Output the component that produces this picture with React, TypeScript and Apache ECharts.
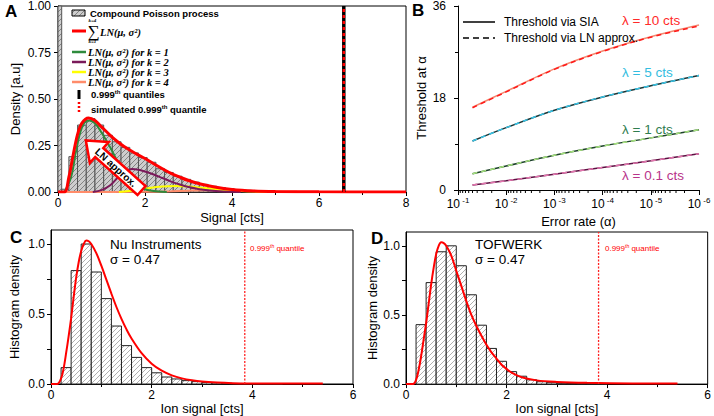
import React, { useEffect, useRef } from "react";
import * as echarts from "echarts";

// ---------------- Panel A : compound Poisson histogram ----------------
const aBinEdges = [0, 0.085, 0.25, 0.45, 0.65, 0.85, 1.05, 1.25, 1.45, 1.65, 1.85, 2.05, 2.25, 2.45, 2.65, 2.85, 3.05, 3.25, 3.45, 3.65, 3.85, 4.05, 4.25, 4.45, 4.65, 4.85, 5.05];
const aBinHeights = [1.2, 0.015, 0.19, 0.36, 0.395, 0.36, 0.305, 0.27, 0.24, 0.21, 0.185, 0.16, 0.125, 0.105, 0.085, 0.068, 0.053, 0.041, 0.031, 0.024, 0.018, 0.013, 0.009, 0.006, 0.004, 0.003];
const aSumX = [0, 0.15, 0.25, 0.35, 0.45, 0.55, 0.7, 0.85, 1.0, 1.2, 1.4, 1.6, 1.8, 2.0, 2.2, 2.4, 2.6, 2.8, 3.0, 3.3, 3.6, 4.0, 4.5, 5.0, 6.0, 8.0];
const aSumY = [0, 0, 0.08, 0.2, 0.31, 0.37, 0.398, 0.385, 0.35, 0.305, 0.265, 0.232, 0.205, 0.18, 0.152, 0.125, 0.1, 0.08, 0.062, 0.042, 0.027, 0.014, 0.006, 0.003, 0.001, 0];
const aK1X = [0.15, 0.3, 0.4, 0.5, 0.6, 0.72, 0.85, 1.0, 1.2, 1.4, 1.6, 1.8, 2.0, 2.2, 2.5];
const aK1Y = [0, 0.08, 0.2, 0.31, 0.37, 0.385, 0.37, 0.32, 0.24, 0.15, 0.085, 0.04, 0.015, 0.005, 0];
const aK2X = [0.8, 1.0, 1.2, 1.4, 1.55, 1.7, 1.85, 2.0, 2.2, 2.4, 2.6, 2.8, 3.0, 3.3, 3.7, 4.2];
const aK2Y = [0, 0.01, 0.036, 0.085, 0.112, 0.124, 0.12, 0.11, 0.094, 0.075, 0.056, 0.04, 0.027, 0.013, 0.004, 0];
const aK3X = [1.4, 1.8, 2.1, 2.4, 2.7, 3.0, 3.3, 3.7, 4.1, 4.6, 5.2];
const aK3Y = [0, 0.01, 0.022, 0.03, 0.032, 0.029, 0.023, 0.014, 0.007, 0.002, 0];
const aK4X = [0, 2.0, 2.6, 3.0, 3.5, 4.0, 4.5, 5.0, 5.5, 6.2];
const aK4Y = [0, 0.001, 0.004, 0.007, 0.009, 0.008, 0.005, 0.003, 0.001, 0];
const aQuantile = 6.57;
const aSimQuantile = 6.57;
const aArrowTip = [0.64, 0.277];
const aArrowTail = [1.92, 0.008];

// ---------------- Panel B : thresholds vs error rate ----------------
const bAlpha = [0.05, 1e-2, 1e-3, 1e-4, 1e-5, 1e-6];
const bSIA10 = [16.2, 19.3, 23.7, 27.2, 30.0, 32.3];
const bLN10 = [16.1, 19.2, 23.6, 27.1, 29.9, 32.1];
const bSIA5 = [9.6, 12.2, 15.6, 18.2, 20.4, 22.4];
const bLN5 = [9.6, 12.2, 15.6, 18.2, 20.4, 22.4];
const bSIA1 = [3.2, 4.7, 6.8, 8.6, 10.2, 11.8];
const bLN1 = [3.2, 4.7, 6.8, 8.6, 10.2, 11.8];
const bSIA01 = [1.0, 1.8, 3.1, 4.4, 5.7, 7.1];
const bLN01 = [1.0, 1.8, 3.1, 4.4, 5.7, 7.1];
const bDecades = [1e-1, 1e-2, 1e-3, 1e-4, 1e-5];
const bMinorMultipliers = [0.2, 0.3, 0.4, 0.5, 0.6, 0.7, 0.8, 0.9];

// ---------------- Panel C : Nu Instruments ----------------
const cBinWidth = 0.2;
const cBinLeft = [0.2, 0.4, 0.6, 0.8, 1.0, 1.2, 1.4, 1.6, 1.8, 2.0, 2.2, 2.4, 2.6, 2.8, 3.0, 3.2, 3.4, 3.6, 3.8, 4.0, 4.2, 4.4];
const cHeights = [0.117, 0.81, 1.0, 0.8, 0.61, 0.414, 0.274, 0.19, 0.117, 0.08, 0.05, 0.036, 0.024, 0.017, 0.011, 0.008, 0.006, 0.004, 0.003, 0.002, 0.0015, 0.001];
const cCurveX = [0, 0.12, 0.2, 0.25, 0.3, 0.35, 0.4, 0.45, 0.5, 0.55, 0.6, 0.65, 0.7, 0.75, 0.8, 0.9, 1.0, 1.1, 1.2, 1.3, 1.4, 1.5, 1.6, 1.8, 2.0, 2.2, 2.4, 2.6, 2.8, 3.0, 3.3, 3.6, 4.0, 4.5, 5.4];
const cCurveY = [0, 0, 0.04, 0.11, 0.22, 0.34, 0.47, 0.62, 0.76, 0.87, 0.95, 1.0, 1.025, 1.02, 1.0, 0.935, 0.845, 0.745, 0.645, 0.55, 0.465, 0.39, 0.325, 0.22, 0.145, 0.095, 0.062, 0.04, 0.026, 0.017, 0.01, 0.006, 0.004, 0.003, 0.003];
const cQuantile = 3.85;

// ---------------- Panel D : TOFWERK ----------------
const dBinWidth = 0.2;
const dBinLeft = [0.2, 0.4, 0.6, 0.8, 1.0, 1.2, 1.4, 1.6, 1.8, 2.0, 2.2, 2.4, 2.6, 2.8, 3.0, 3.2, 3.4, 3.6, 3.8];
const dHeights = [0.43, 0.734, 0.957, 1.0, 0.856, 0.646, 0.426, 0.258, 0.165, 0.09, 0.057, 0.031, 0.017, 0.01, 0.006, 0.004, 0.003, 0.002, 0.001];
const dCurveX = [0, 0.14, 0.2, 0.25, 0.3, 0.35, 0.4, 0.45, 0.5, 0.55, 0.6, 0.65, 0.7, 0.75, 0.8, 0.9, 1.0, 1.1, 1.2, 1.3, 1.4, 1.5, 1.6, 1.7, 1.8, 1.9, 2.0, 2.1, 2.3, 2.6, 3.0, 3.6, 4.5, 5.4];
const dCurveY = [0, 0, 0.03, 0.1, 0.2, 0.32, 0.44, 0.58, 0.72, 0.84, 0.94, 1.0, 1.025, 1.02, 1.0, 0.93, 0.82, 0.71, 0.6, 0.5, 0.42, 0.35, 0.285, 0.23, 0.185, 0.14, 0.11, 0.083, 0.05, 0.027, 0.016, 0.009, 0.005, 0.004];
const dQuantile = 3.83;

const SANS = "'Liberation Sans', Arial, sans-serif";
const SERIF = "'Liberation Serif', 'DejaVu Serif', serif";

function hatchPattern(bg: string | null, fg: string, size: number) {
  const c = document.createElement("canvas");
  c.width = size;
  c.height = size;
  const ctx = c.getContext("2d")!;
  if (bg) {
    ctx.fillStyle = bg;
    ctx.fillRect(0, 0, size, size);
  }
  ctx.strokeStyle = fg;
  ctx.lineWidth = 0.8;
  ctx.beginPath();
  ctx.moveTo(-1, size + 1);
  ctx.lineTo(size + 1, -1);
  ctx.moveTo(-1, 1);
  ctx.lineTo(1, -1);
  ctx.moveTo(size - 1, size + 1);
  ctx.lineTo(size + 1, size - 1);
  ctx.stroke();
  return { image: c.toDataURL(), repeat: "repeat", imageWidth: size, imageHeight: size };
}

const pairs = (xs: number[], ys: number[]) => xs.map((x, i) => [x, ys[i]]);

function histSeries(idx: number, lefts: number[], rights: number[], heights: number[], fill: any, stroke: string) {
  return {
    type: "custom",
    xAxisIndex: idx,
    yAxisIndex: idx,
    data: heights.map((h, i) => [lefts[i], rights[i], h]),
    encode: { x: [0, 1], y: 2 },
    z: 1,
    renderItem: (params: any, api: any) => {
      const p0 = api.coord([api.value(0), api.value(2)]);
      const p1 = api.coord([api.value(1), 0]);
      const rect = { x: p0[0], y: p0[1], width: p1[0] - p0[0], height: p1[1] - p0[1] };
      const cs = params.coordSys;
      const clipped = echarts.graphic.clipRectByRect(rect, { x: cs.x, y: cs.y, width: cs.width, height: cs.height });
      if (!clipped) return null;
      return { type: "rect", shape: clipped, style: { fill, stroke, lineWidth: 1 } };
    },
  };
}

function lineSeries(idx: number, data: number[][], color: string, width: number, extra: any = {}) {
  return {
    type: "line",
    xAxisIndex: idx,
    yAxisIndex: idx,
    data,
    symbol: "none",
    showSymbol: false,
    smooth: 0.35,
    itemStyle: { color },
    lineStyle: { color, width, ...(extra.lineStyle || {}) },
    z: extra.z ?? 3,
    silent: true,
  };
}

function baseAxis(extra: any) {
  return {
    axisLine: { show: true, onZero: false, lineStyle: { color: "#000", width: 1 } },
    axisTick: { show: true, inside: false, length: 4, lineStyle: { color: "#000", width: 1 } },
    splitLine: { show: false },
    nameLocation: "middle",
    nameTextStyle: { color: "#000", fontFamily: SANS, fontSize: 13 },
    ...extra,
    axisLabel: { color: "#000", fontFamily: SANS, fontSize: 12, ...(extra.axisLabel || {}) },
  };
}

export default function App() {
  const ref = useRef<HTMLDivElement>(null);
  useEffect(() => {
    const el = ref.current!;
    const chart = echarts.init(el, null, { renderer: "svg" });
    const patA = hatchPattern("#cdcdcd", "#707070", 5);
    const patC = hatchPattern("#ffffff", "#9a9a9a", 5);

    const aL = aBinEdges.slice(0, -1);
    const aR = aBinEdges.slice(1);
    const cR = cBinLeft.map((x) => x + cBinWidth);
    const dR = dBinLeft.map((x) => x + dBinWidth);

    const bMinor: number[][] = [];
    bDecades.forEach((d) => bMinorMultipliers.forEach((m) => bMinor.push([d * m, 0])));

    const option: any = {
      animation: false,
      backgroundColor: "#fff",
      grid: [
        { left: 58, top: 5, width: 348, height: 187, show: true, borderColor: "#000", borderWidth: 1, backgroundColor: "transparent" },
        { left: 458, top: 5, width: 241, height: 185 },
        { left: 51, top: 230, width: 302, height: 154, show: true, borderColor: "#000", borderWidth: 1, backgroundColor: "transparent" },
        { left: 406, top: 232, width: 302, height: 153, show: true, borderColor: "#000", borderWidth: 1, backgroundColor: "transparent" },
      ],
      xAxis: [
        baseAxis({ gridIndex: 0, type: "value", min: 0, max: 8, interval: 2, name: "Signal [cts]", nameGap: 19, minorTick: { show: true, splitNumber: 2, length: 3, lineStyle: { color: "#000" } }, axisLabel: { margin: 5 } }),
        baseAxis({
          gridIndex: 1, type: "log", logBase: 10, min: 1e-6, max: 0.1, inverse: true, name: "Error rate (\u03b1)", nameGap: 25,
          axisTick: { show: true, inside: false, length: 5, lineStyle: { color: "#000" } },
          axisLabel: {
            margin: 6,
            formatter: (v: number) => "{b|10}{s| " + Math.round(Math.log10(v)) + "}",
            rich: { b: { fontSize: 12, fontFamily: SANS, color: "#000" }, s: { fontSize: 8, fontFamily: SANS, color: "#000", padding: [0, 0, 7, 0] } },
          },
        }),
        baseAxis({ gridIndex: 2, type: "value", min: 0, max: 6, interval: 2, name: "Ion signal [cts]", nameGap: 16, minorTick: { show: true, splitNumber: 2, length: 3, lineStyle: { color: "#000" } }, axisLabel: { margin: 5 } }),
        baseAxis({ gridIndex: 3, type: "value", min: 0, max: 6, interval: 2, name: "Ion signal [cts]", nameGap: 16, minorTick: { show: true, splitNumber: 2, length: 3, lineStyle: { color: "#000" } }, axisLabel: { margin: 5 } }),
      ],
      yAxis: [
        baseAxis({ gridIndex: 0, type: "value", min: 0, max: 1, interval: 0.25, name: "Density [a.u]", nameGap: 36, axisLabel: { margin: 7, formatter: (v: number) => v.toFixed(2) } }),
        baseAxis({ gridIndex: 1, type: "value", min: 0, max: 36, interval: 18, name: "Threshold at \u03b1", nameGap: 30, minorTick: { show: true, splitNumber: 2, length: 3, lineStyle: { color: "#000" } }, axisLabel: { margin: 12 } }),
        baseAxis({
          gridIndex: 2, type: "value", min: 0, max: 1.1, interval: 0.25, name: "Histogram density", nameGap: 30,
          axisTick: { show: true, length: 4, customValues: [0, 0.25, 0.5, 0.75, 1.0], lineStyle: { color: "#000" } },
          axisLabel: { margin: 6, customValues: [0, 0.5, 1.0], formatter: (v: number) => v.toFixed(1) },
        }),
        baseAxis({
          gridIndex: 3, type: "value", min: 0, max: 1.1, interval: 0.25, name: "Histogram density", nameGap: 27,
          axisTick: { show: true, length: 4, customValues: [0, 0.25, 0.5, 0.75, 1.0], lineStyle: { color: "#000" } },
          axisLabel: { margin: 6, customValues: [0, 0.5, 1.0], formatter: (v: number) => v.toFixed(1) },
        }),
      ],
      series: [
        // Panel A
        histSeries(0, aL, aR, aBinHeights, patA, "#555"),
        lineSeries(0, pairs(aK4X, aK4Y), "#ff8c6a", 2),
        lineSeries(0, pairs(aK3X, aK3Y), "#ffff00", 2),
        lineSeries(0, pairs(aK2X, aK2Y), "#7a1a5a", 2),
        lineSeries(0, pairs(aK1X, aK1Y), "#2e8b3c", 2),
        lineSeries(0, pairs(aSumX, aSumY), "#ff0000", 3, { z: 4 }),
        { ...lineSeries(0, [[aQuantile, 0], [aQuantile, 1]], "#000", 3.5, { z: 5 }), smooth: false },
        { ...lineSeries(0, [[aSimQuantile, 0], [aSimQuantile, 1]], "#ff0000", 2.5, { z: 6, lineStyle: { type: [3, 3] } }), smooth: false },
        // Panel B
        lineSeries(1, pairs(bAlpha, bSIA10), "#f48a72", 1.5),
        lineSeries(1, pairs(bAlpha, bLN10), "#ff1a1a", 1.5, { z: 4, lineStyle: { type: [5, 4] } }),
        lineSeries(1, pairs(bAlpha, bSIA5), "#1d3535", 1.5),
        lineSeries(1, pairs(bAlpha, bLN5), "#36c3e6", 1.5, { z: 4, lineStyle: { type: [5, 4] } }),
        lineSeries(1, pairs(bAlpha, bSIA1), "#1e402c", 1.5),
        lineSeries(1, pairs(bAlpha, bLN1), "#a5e27c", 1.5, { z: 4, lineStyle: { type: [5, 4] } }),
        lineSeries(1, pairs(bAlpha, bSIA01), "#5a1040", 1.5),
        lineSeries(1, pairs(bAlpha, bLN01), "#e274ad", 1.5, { z: 4, lineStyle: { type: [5, 4] } }),
        {
          type: "custom",
          xAxisIndex: 1,
          yAxisIndex: 1,
          data: bMinor,
          encode: { x: 0, y: 1 },
          renderItem: (params: any, api: any) => {
            const p = api.coord([api.value(0), api.value(1)]);
            return { type: "line", shape: { x1: p[0], y1: p[1], x2: p[0], y2: p[1] + 3 }, style: { stroke: "#000", lineWidth: 1 } };
          },
        },
        // Panel C
        histSeries(2, cBinLeft, cR, cHeights, patC, "#222"),
        lineSeries(2, pairs(cCurveX, cCurveY), "#ff0000", 2, { z: 4 }),
        { ...lineSeries(2, [[cQuantile, 0], [cQuantile, 1.1]], "#ff2020", 1.3, { z: 5, lineStyle: { type: [2, 1.5] } }), smooth: false },
        // Panel D
        histSeries(3, dBinLeft, dR, dHeights, patC, "#222"),
        lineSeries(3, pairs(dCurveX, dCurveY), "#ff0000", 2, { z: 4 }),
        { ...lineSeries(3, [[dQuantile, 0], [dQuantile, 1.1]], "#ff2020", 1.3, { z: 5, lineStyle: { type: [2, 1.5] } }), smooth: false },
      ],
    };
    chart.setOption(option);

    // ---- annotation arrow in panel A (placed from data coordinates) ----
    const tip = chart.convertToPixel({ gridIndex: 0 } as any, aArrowTip) as number[];
    const tail = chart.convertToPixel({ gridIndex: 0 } as any, aArrowTail) as number[];
    const dx = tail[0] - tip[0];
    const dy = tail[1] - tip[1];
    const L = Math.hypot(dx, dy);
    const ux = dx / L, uy = dy / L, nx = -uy, ny = ux;
    const hl = 18, hw = 14, sw = 6;
    const bx = tip[0] + ux * hl, by = tip[1] + uy * hl;
    const arrowPts = [
      [tip[0], tip[1]],
      [bx + nx * hw, by + ny * hw],
      [bx + nx * sw, by + ny * sw],
      [tail[0] + nx * sw, tail[1] + ny * sw],
      [tail[0] - nx * sw, tail[1] - ny * sw],
      [bx - nx * sw, by - ny * sw],
      [bx - nx * hw, by - ny * hw],
    ];
    const mid = hl + (L - hl) / 2 - 6;
    const ang = -Math.atan2(dy, dx);

    const txt = (x: number, y: number, text: string, s: any = {}) => ({
      type: "text",
      x,
      y,
      z: 100,
      silent: true,
      style: { text, fontFamily: SANS, fontSize: 12, fill: "#000", align: "left", textAlign: "left", verticalAlign: "middle", textVerticalAlign: "middle", ...s },
    });
    const seg = (x1: number, y1: number, x2: number, y2: number, stroke: string, lineWidth: number, dash?: number[]) => ({
      type: "line",
      z: 100,
      silent: true,
      shape: { x1, y1, x2, y2 },
      style: { stroke, lineWidth, lineDash: dash },
    });
    const math = { fontFamily: SERIF, fontStyle: "italic", fontWeight: "bold", fontSize: 10.5, lineHeight: 9 };
    const supRich = (fs: number, color: string) => ({ s: { fontSize: fs, fontFamily: SANS, fontWeight: "bold", fill: color, color, padding: [0, 0, 5, 0] } });

    const graphics: any[] = [
      // panel letters
      txt(5, 11, "A", { fontSize: 17, fontWeight: "bold" }),
      txt(412, 10, "B", { fontSize: 17, fontWeight: "bold" }),
      txt(10, 237, "C", { fontSize: 17, fontWeight: "bold" }),
      txt(371, 238, "D", { fontSize: 17, fontWeight: "bold" }),
      // arrow
      { type: "polygon", z: 90, silent: true, shape: { points: arrowPts }, style: { fill: "#fff", stroke: "#ff0000", lineWidth: 2.5, lineJoin: "miter" } },
      { type: "text", z: 91, silent: true, x: tip[0] + ux * mid, y: tip[1] + uy * mid, rotation: ang, style: { text: "LN approx.", fontFamily: SANS, fontSize: 10, fontWeight: "bold", fill: "#000", align: "center", textAlign: "center", verticalAlign: "middle", textVerticalAlign: "middle" } },
      // legend A
      { type: "rect", z: 100, silent: true, shape: { x: 72, y: 10, width: 13, height: 6 }, style: { fill: patA, stroke: "#000", lineWidth: 1 } },
      txt(90, 13, "Compound Poisson process", { fontSize: 9.5, fontWeight: "bold" }),
      seg(72, 31, 86, 31, "#ff0000", 3),
      txt(88.5, 20.5, "k=4", { ...math, fontSize: 5, lineHeight: 5 }),
      txt(87.5, 31, "\u2211", { fontFamily: SERIF, fontSize: 17, lineHeight: 15 }),
      txt(88.5, 41.5, "k=1", { ...math, fontSize: 5, lineHeight: 5 }),
      txt(100, 32, "LN(\u03bc, \u03c3\u00b2)", math),
      seg(72, 52, 86, 52, "#2e8b3c", 2.5),
      txt(88, 52, "LN(\u03bc, \u03c3\u00b2) for k = 1", math),
      seg(72, 62, 86, 62, "#7a1a5a", 2.5),
      txt(88, 62, "LN(\u03bc, \u03c3\u00b2) for k = 2", math),
      seg(72, 72, 86, 72, "#ffff00", 2.5),
      txt(88, 72, "LN(\u03bc, \u03c3\u00b2) for k = 3", math),
      seg(72, 82, 86, 82, "#ff8c6a", 2.5),
      txt(88, 82, "LN(\u03bc, \u03c3\u00b2) for k = 4", math),
      seg(79, 90, 79, 99, "#000", 3),
      txt(91, 94, "0.999{s|th} quantiles", { fontSize: 9.5, fontWeight: "bold", rich: supRich(6, "#000") }),
      seg(79, 102, 79, 114, "#ff0000", 2.5, [2, 2]),
      txt(91, 109, "simulated 0.999{s|th} quantile", { fontSize: 9.5, fontWeight: "bold", rich: supRich(6, "#000") }),
      // legend B
      seg(463, 22, 495, 22, "#000", 1.5),
      txt(504, 22, "Threshold via SIA", { fontSize: 12 }),
      seg(463, 38, 495, 38, "#000", 1.5, [6, 4]),
      txt(504, 38, "Threshold via LN approx.", { fontSize: 12 }),
      txt(622, 20, "\u03bb = 10 cts", { fontSize: 13.5, fill: "#ff2a2a" }),
      txt(622, 72, "\u03bb = 5 cts", { fontSize: 13.5, fill: "#33bde0" }),
      txt(622, 129, "\u03bb = 1 cts", { fontSize: 13.5, fill: "#2f7d4f" }),
      txt(622, 175, "\u03bb = 0.1 cts", { fontSize: 13.5, fill: "#b8348a" }),
      // panel C texts
      txt(110, 244, "Nu Instruments", { fontSize: 13.5 }),
      txt(110, 259, "\u03c3 = 0.47", { fontSize: 13.5 }),
      txt(250, 248, "0.999{s|th} quantile", { fontSize: 8, fill: "#ff0000", rich: { s: { fontSize: 5, fontFamily: SANS, fill: "#ff0000", color: "#ff0000", padding: [0, 0, 4, 0] } } }),
      // panel D texts
      txt(475, 244, "TOFWERK", { fontSize: 13.5 }),
      txt(475, 259, "\u03c3 = 0.47", { fontSize: 13.5 }),
      txt(605, 248, "0.999{s|th} quantile", { fontSize: 8, fill: "#ff0000", rich: { s: { fontSize: 5, fontFamily: SANS, fill: "#ff0000", color: "#ff0000", padding: [0, 0, 4, 0] } } }),
    ];
    chart.setOption({ graphic: { elements: graphics } });

    return () => chart.dispose();
  }, []);
  return <div ref={ref} style={{ position: "fixed", left: 0, top: 0, width: 714, height: 416, background: "#fff" }} />;
}
